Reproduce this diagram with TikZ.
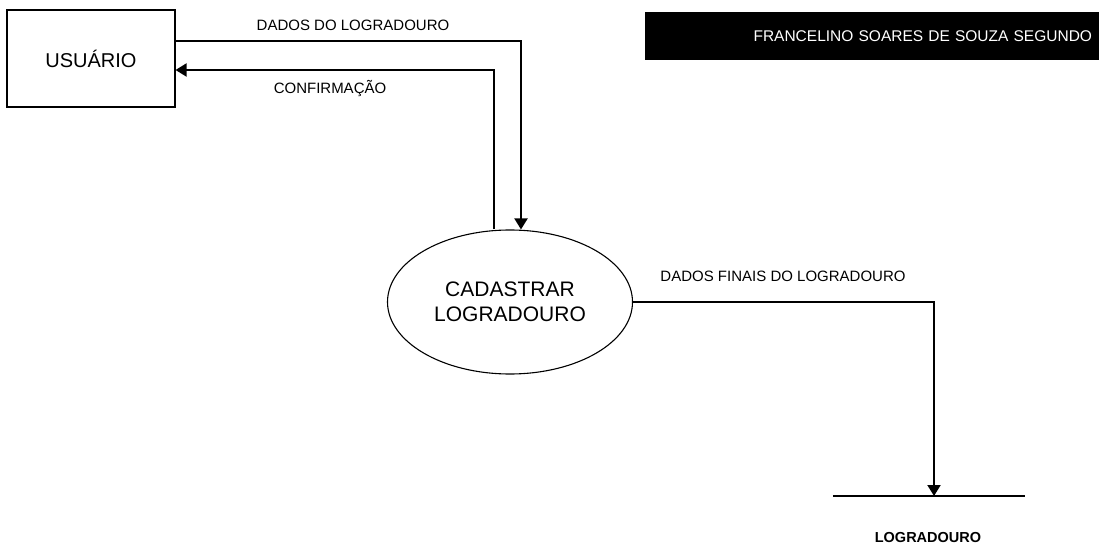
\documentclass[tikz,border=0pt]{standalone}
\usepackage{fontspec}
\setmainfont{Liberation Sans}
\usetikzlibrary{arrows.meta,positioning,shapes.geometric}

\begin{document}
\begin{tikzpicture}[x=1pt, y=-1pt, >={Triangle[width=13pt,length=11pt]},
  entidade/.style={draw, line width=1.1pt, minimum width=168pt, minimum height=97pt, inner sep=0pt, font=\fontsize{20}{24}\selectfont},
  processo/.style={draw, ellipse, line width=1.1pt, minimum width=245pt, minimum height=144pt, inner sep=0pt, align=center, font=\fontsize{21}{25}\selectfont},
  fluxo/.style={line width=2pt},
  rotulo/.style={inner sep=0pt, font=\fontsize{15}{18}\selectfont}]
  \useasboundingbox (0,0) rectangle (1099,553);

  % entidade, processo e depósito
  \node[entidade] (usuario) at (91,58.5) {USUÁRIO};
  \node[processo] (cadastrar) at (510,302) {CADASTRAR\\LOGRADOURO};
  \node[minimum width=192pt, minimum height=0pt, inner sep=0pt] (deposito) at (929,496) {};
  \draw[line width=2pt] (deposito.west) -- (deposito.east);
  \node[inner sep=0pt, font=\bfseries\fontsize{14.5}{17}\selectfont] (nomedep) at (928,538) {LOGRADOURO};

  % faixa do autor
  \node[fill=black, text=white, minimum width=454pt, minimum height=48pt, text width=440pt, align=right, inner xsep=7pt, font=\fontsize{15.5}{18}\selectfont] (autor) at (872,36) {FRANCELINO SOARES DE SOUZA SEGUNDO};

  % fluxos
  \draw[fluxo, ->] ([yshift=17.5pt]usuario.east) -| ([xshift=11pt]cadastrar.north);
  \draw[fluxo, ->] ([xshift=-16pt]cadastrar.north) |- ([yshift=-11.5pt]usuario.east);
  \draw[fluxo, ->] (cadastrar.east) -| ([xshift=5pt]deposito.center);

  \node[rotulo] (dados) at (353,25) {DADOS DO LOGRADOURO};
  \node[rotulo] (confirmacao) at (330,89) {CONFIRMAÇÃO};
  \node[rotulo] (finais) at (783,276) {DADOS FINAIS DO LOGRADOURO};
\end{tikzpicture}
\end{document}
